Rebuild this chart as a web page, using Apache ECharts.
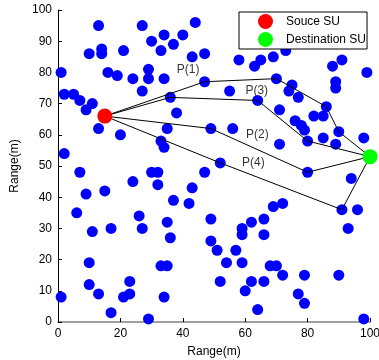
<!DOCTYPE html>
<html>
<head>
<meta charset="utf-8">
<script src="https://cdn.jsdelivr.net/npm/echarts@6/dist/echarts.min.js"></script>
<style>html,body{margin:0;padding:0;background:#fff}#c{width:379px;height:360px}</style>
</head>
<body>
<div id="c"></div>
<script>
var nodes = [
[13,95],[27,95],[10,86],[14,87.5],[14,86],[21,87],[30,90],[34,92],[33,87],[37,89],[40,92],[44,96],[43,85],[47,86],
[1,80],[16,80],[19,79],[24,78],[29,81],[29,78],[34,78],[27,74],[36,72],[38,67],[35,62],[33,58],[34,56],
[2,73],[5,73],[7,71],[9,68],[11,70],[13,62],[20,60],[2,54],
[7,48],[30,48],[32,48],[47,48],[32,44],[24,45],[43,43],[15,42],[9,41],[37,39],[42,38],[6,35],[26,34],[35,32],[49,33],
[11,29],[17,30],[27,30],[36,27],[49,26],[10,19],[33,18],[35,18],[10,12],[13,9],[1,8],[23,13],[23,9],[21,8],[34,8],[17,3],[29,1],
[47,77],[55,74],[58,84],[63,82],[65,84],[69,85],[73,87],[88,82],[91,84],[99,80],[89,77],[89,75],[70,78],[75,76],[74,74],[77,72],
[64,71],[71,68],[86,69],[82,66],[85,66],[76,64.5],[78,63],[79,61.5],[90,61],[85,59],[89,57],[98,59],[80,58],[71,57],[56,62],[49,62],
[52,51],[80,48],[94,46],[91,36],[96,36],[93,30],[69,37],[72,38],[59,30],[62,32],[66,33],[59,28],[66,28],[51,23],[57,23],[54,19],
[59,19],[68,18],[70,18],[72,15],[79,15],[90,15],[52,13],[62,13],[66,13],[60,10],[77,9],[79,6],[64,4],[98,1]
];
var source = [15,66];
var dest = [100,53];
var path1 = [[15,66],[47,77],[70,78],[86,69],[90,61],[100,53]];
var path2 = [[15,66],[49,62],[80,48],[100,53]];
var path3 = [[15,66],[36,72],[64,71],[80,58],[100,53]];
var path4 = [[15,66],[52,51],[91,36],[100,53]];
var pathLabels = [["P(1)",41.7,81],["P(2)",63.9,59.9],["P(3)",63.7,74.1],["P(4)",62.6,51.2]];
var xTicks = {min:0,max:100,interval:20};
var yTicks = {min:0,max:100,interval:10};

var font = 'Liberation Sans, Arial, sans-serif';
function pathSeries(d){
  return {type:'line',data:d,symbol:'none',silent:true,z:3,
    lineStyle:{color:'#000',width:1},animation:false};
}
var chart = echarts.init(document.getElementById('c'));
chart.setOption({
  animation:false,
  grid:{left:58,right:9,top:10,bottom:38,containLabel:false,outerBoundsMode:'none'},
  xAxis:{type:'value',min:xTicks.min,max:xTicks.max,interval:xTicks.interval,
    name:'Range(m)',nameLocation:'middle',nameGap:24,
    nameTextStyle:{color:'#000',fontSize:12,fontFamily:font},
    axisLine:{lineStyle:{color:'#808080',width:1.5}},
    axisTick:{inside:true,length:4,lineStyle:{color:'#000'}},
    axisLabel:{color:'#000',fontSize:12,fontFamily:font,margin:6},
    splitLine:{show:false}},
  yAxis:{type:'value',min:yTicks.min,max:yTicks.max,interval:yTicks.interval,
    name:'Range(m)',nameLocation:'middle',nameGap:37,nameRotate:90,
    nameTextStyle:{color:'#000',fontSize:12,fontFamily:font},
    axisLine:{lineStyle:{color:'#000',width:1}},
    axisTick:{inside:true,length:4,lineStyle:{color:'#000'}},
    axisLabel:{color:'#000',fontSize:12,fontFamily:font,margin:6},
    splitLine:{show:false}},
  legend:{orient:'vertical',left:239,top:12,
    data:[{name:'Souce SU',icon:'circle'},{name:'Destination SU',icon:'circle'}],
    itemWidth:15,itemHeight:15,itemGap:3,
    padding:[2,1,2,19],
    borderColor:'#000',borderWidth:1,backgroundColor:'#fff',
    textStyle:{color:'#000',fontSize:12,fontFamily:font,padding:[0,0,0,8]}},
  series:[
    {type:'scatter',name:'nodes',data:nodes,symbolSize:11,z:2,
      itemStyle:{color:'#0000ff',opacity:1}},
    pathSeries(path1),pathSeries(path2),pathSeries(path3),pathSeries(path4),
    {type:'scatter',name:'labels',data:pathLabels.map(function(p){return {value:[p[1],p[2]],name:p[0]};}),
      symbolSize:0,z:4,silent:true,
      label:{show:true,position:'inside',formatter:function(p){return p.name;},
        color:'#000',fontSize:12,fontFamily:font}},
    {type:'scatter',name:'Souce SU',data:[source],symbolSize:15,z:5,
      itemStyle:{color:'#ff0000',opacity:1}},
    {type:'scatter',name:'Destination SU',data:[dest],symbolSize:15,z:5,
      itemStyle:{color:'#00ff00',opacity:1}}
  ]
});
</script>
</body>
</html>
